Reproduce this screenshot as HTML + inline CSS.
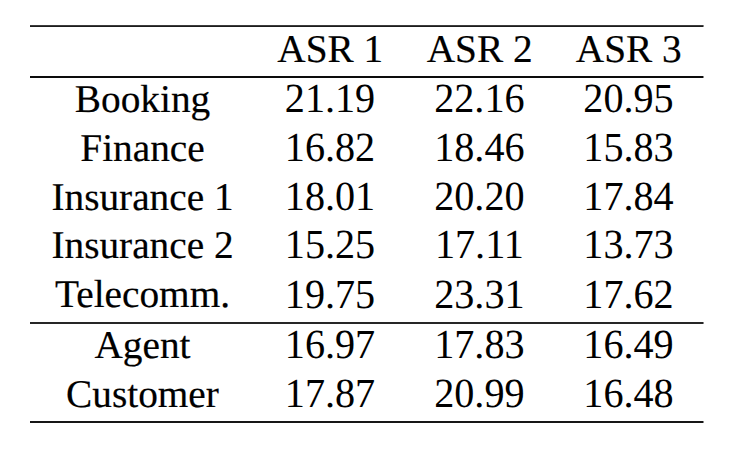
<!DOCTYPE html>
<html><head><meta charset="utf-8"><style>
html,body{margin:0;padding:0;background:#fff;width:740px;height:449px;overflow:hidden;position:relative}
.t{position:absolute;text-align:center;white-space:nowrap;font-family:"Liberation Serif",serif;color:#000;-webkit-text-stroke:0.2px #000;text-rendering:geometricPrecision}
.r{position:absolute;left:30px;width:673px;height:1px}
.re{position:absolute;left:703px;width:1px;height:2px;background:#8a8a8a}
</style></head><body>
<div class="r" style="top:25px;background:#3c3c3c"></div>
<div class="r" style="top:26px;background:#1c1c1c"></div>
<div class="re" style="top:25px"></div>
<div class="r" style="top:76px;background:#0c0c0c"></div>
<div class="r" style="top:77px;background:#0c0c0c"></div>
<div class="re" style="top:76px"></div>
<div class="r" style="top:322px;background:#262626"></div>
<div class="r" style="top:323px;background:#262626"></div>
<div class="re" style="top:322px"></div>
<div class="r" style="top:421px;background:#161616"></div>
<div class="r" style="top:422px;background:#161616"></div>
<div class="re" style="top:421px"></div>
<div class="t" style="left:180.30px;top:29.59px;width:300px;font-size:39.3px;line-height:39.3px">ASR 1</div>
<div class="t" style="left:329.70px;top:29.59px;width:300px;font-size:39.3px;line-height:39.3px">ASR 2</div>
<div class="t" style="left:478.80px;top:29.59px;width:300px;font-size:39.3px;line-height:39.3px">ASR 3</div>
<div class="t" style="left:-7.50px;top:79.59px;width:300px;font-size:39.3px;line-height:39.3px">Booking</div>
<div class="t" style="left:180.00px;top:78.83px;width:300px;font-size:40.2px;line-height:40.2px;transform:scaleY(1.03);transform-origin:50% 33.67px;-webkit-text-stroke:0.0px #000">21.19</div>
<div class="t" style="left:329.40px;top:78.83px;width:300px;font-size:40.2px;line-height:40.2px;transform:scaleY(1.03);transform-origin:50% 33.67px;-webkit-text-stroke:0.0px #000">22.16</div>
<div class="t" style="left:478.50px;top:78.83px;width:300px;font-size:40.2px;line-height:40.2px;transform:scaleY(1.03);transform-origin:50% 33.67px;-webkit-text-stroke:0.0px #000">20.95</div>
<div class="t" style="left:-7.50px;top:128.59px;width:300px;font-size:39.3px;line-height:39.3px">Finance</div>
<div class="t" style="left:180.00px;top:127.83px;width:300px;font-size:40.2px;line-height:40.2px;transform:scaleY(1.03);transform-origin:50% 33.67px;-webkit-text-stroke:0.0px #000">16.82</div>
<div class="t" style="left:329.40px;top:127.83px;width:300px;font-size:40.2px;line-height:40.2px;transform:scaleY(1.03);transform-origin:50% 33.67px;-webkit-text-stroke:0.0px #000">18.46</div>
<div class="t" style="left:478.50px;top:127.83px;width:300px;font-size:40.2px;line-height:40.2px;transform:scaleY(1.03);transform-origin:50% 33.67px;-webkit-text-stroke:0.0px #000">15.83</div>
<div class="t" style="left:-7.50px;top:177.59px;width:300px;font-size:39.3px;line-height:39.3px">Insurance 1</div>
<div class="t" style="left:180.00px;top:176.83px;width:300px;font-size:40.2px;line-height:40.2px;transform:scaleY(1.03);transform-origin:50% 33.67px;-webkit-text-stroke:0.0px #000">18.01</div>
<div class="t" style="left:329.40px;top:176.83px;width:300px;font-size:40.2px;line-height:40.2px;transform:scaleY(1.03);transform-origin:50% 33.67px;-webkit-text-stroke:0.0px #000">20.20</div>
<div class="t" style="left:478.50px;top:176.83px;width:300px;font-size:40.2px;line-height:40.2px;transform:scaleY(1.03);transform-origin:50% 33.67px;-webkit-text-stroke:0.0px #000">17.84</div>
<div class="t" style="left:-7.50px;top:225.59px;width:300px;font-size:39.3px;line-height:39.3px">Insurance 2</div>
<div class="t" style="left:180.00px;top:224.83px;width:300px;font-size:40.2px;line-height:40.2px;transform:scaleY(1.03);transform-origin:50% 33.67px;-webkit-text-stroke:0.0px #000">15.25</div>
<div class="t" style="left:329.40px;top:224.83px;width:300px;font-size:40.2px;line-height:40.2px;transform:scaleY(1.03);transform-origin:50% 33.67px;-webkit-text-stroke:0.0px #000">17.11</div>
<div class="t" style="left:478.50px;top:224.83px;width:300px;font-size:40.2px;line-height:40.2px;transform:scaleY(1.03);transform-origin:50% 33.67px;-webkit-text-stroke:0.0px #000">13.73</div>
<div class="t" style="left:-7.50px;top:275.29px;width:300px;font-size:39.3px;line-height:39.3px">Telecomm.</div>
<div class="t" style="left:180.00px;top:274.53px;width:300px;font-size:40.2px;line-height:40.2px;transform:scaleY(1.03);transform-origin:50% 33.67px;-webkit-text-stroke:0.0px #000">19.75</div>
<div class="t" style="left:329.40px;top:274.53px;width:300px;font-size:40.2px;line-height:40.2px;transform:scaleY(1.03);transform-origin:50% 33.67px;-webkit-text-stroke:0.0px #000">23.31</div>
<div class="t" style="left:478.50px;top:274.53px;width:300px;font-size:40.2px;line-height:40.2px;transform:scaleY(1.03);transform-origin:50% 33.67px;-webkit-text-stroke:0.0px #000">17.62</div>
<div class="t" style="left:-7.50px;top:325.79px;width:300px;font-size:39.3px;line-height:39.3px">Agent</div>
<div class="t" style="left:180.00px;top:325.03px;width:300px;font-size:40.2px;line-height:40.2px;transform:scaleY(1.03);transform-origin:50% 33.67px;-webkit-text-stroke:0.0px #000">16.97</div>
<div class="t" style="left:329.40px;top:325.03px;width:300px;font-size:40.2px;line-height:40.2px;transform:scaleY(1.03);transform-origin:50% 33.67px;-webkit-text-stroke:0.0px #000">17.83</div>
<div class="t" style="left:478.50px;top:325.03px;width:300px;font-size:40.2px;line-height:40.2px;transform:scaleY(1.03);transform-origin:50% 33.67px;-webkit-text-stroke:0.0px #000">16.49</div>
<div class="t" style="left:-7.50px;top:374.79px;width:300px;font-size:39.3px;line-height:39.3px">Customer</div>
<div class="t" style="left:180.00px;top:374.03px;width:300px;font-size:40.2px;line-height:40.2px;transform:scaleY(1.03);transform-origin:50% 33.67px;-webkit-text-stroke:0.0px #000">17.87</div>
<div class="t" style="left:329.40px;top:374.03px;width:300px;font-size:40.2px;line-height:40.2px;transform:scaleY(1.03);transform-origin:50% 33.67px;-webkit-text-stroke:0.0px #000">20.99</div>
<div class="t" style="left:478.50px;top:374.03px;width:300px;font-size:40.2px;line-height:40.2px;transform:scaleY(1.03);transform-origin:50% 33.67px;-webkit-text-stroke:0.0px #000">16.48</div>
</body></html>
